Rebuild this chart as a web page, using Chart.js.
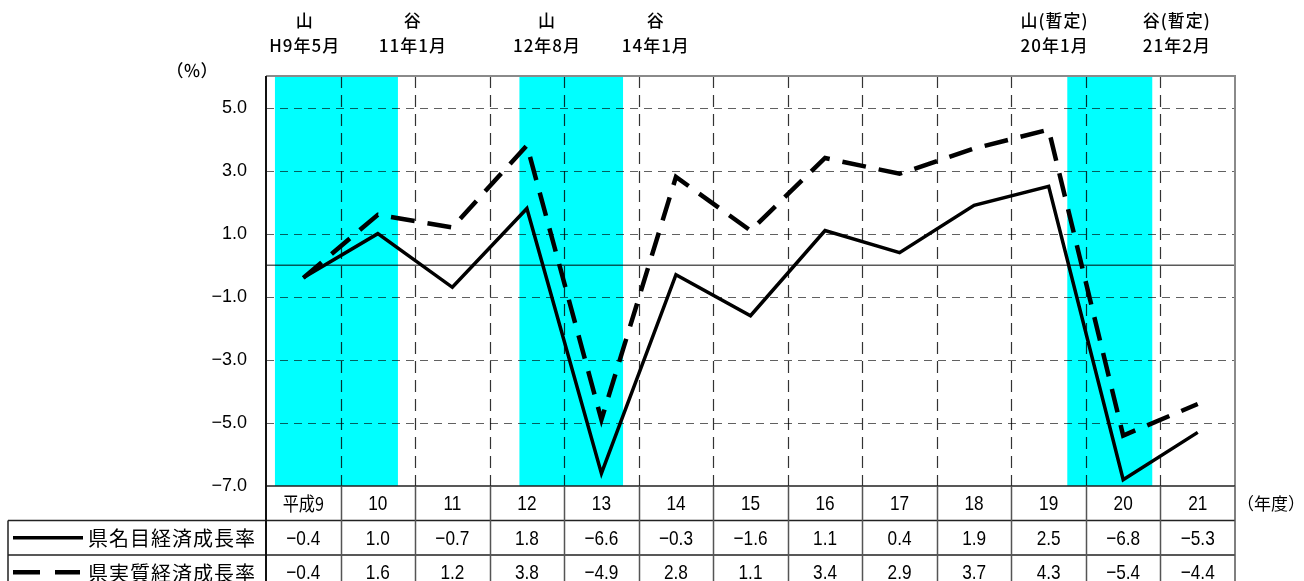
<!DOCTYPE html>
<html lang="ja">
<head>
<meta charset="utf-8">
<script src="https://cdn.jsdelivr.net/npm/chart.js@4/dist/chart.umd.min.js"></script>
<style>
  html, body { margin: 0; padding: 0; background: #fff; }
  #wrap { width: 1304px; height: 581px; overflow: hidden; }
  canvas { display: block; }
</style>
</head>
<body>
<div id="wrap"><canvas id="chart" width="1304" height="581"></canvas></div>
<script>
// 年度（平成）
const categories = ['平成9', '10', '11', '12', '13', '14', '15', '16', '17', '18', '19', '20', '21'];
// 県名目経済成長率（%）
const nominalGrowth = [-0.4, 1.0, -0.7, 1.8, -6.6, -0.3, -1.6, 1.1, 0.4, 1.9, 2.5, -6.8, -5.3];
// 県実質経済成長率（%）
const realGrowth = [-0.4, 1.6, 1.2, 3.8, -4.9, 2.8, 1.1, 3.4, 2.9, 3.7, 4.3, -5.4, -4.4];
const seriesNames = ['県名目経済成長率', '県実質経済成長率'];
// 目盛ラベル
const yTickValues = [5, 3, 1, -1, -3, -5, -7];
// 景気後退期（年度軸上の位置：山→谷）
const recessionStart = [-0.38, 2.90, 10.25];
const recessionEnd = [1.27, 4.29, 11.39];
// 景気基準日付
const turnNames = ['山', '谷', '山', '谷', '山(暫定)', '谷(暫定)'];
const turnDates = ['H9年5月', '11年1月', '12年8月', '14年1月', '20年1月', '21年2月'];
const turnAnchor = [0.02, 1.47, 3.27, 4.73, 10.08, 11.72];

const JP = '"Noto Sans CJK JP", "Noto Sans", sans-serif';
const NUM = '"Liberation Sans", Arial, sans-serif';
const fmt = v => (v < 0 ? '\u2212' : '') + Math.abs(v).toFixed(1);

// 横方向に詰めた文字を描く
function narrowText(c, text, x, y, sx) {
  c.save();
  c.translate(x, y);
  c.scale(sx, 1);
  c.fillText(text, 0, 0);
  c.restore();
}

const frame = {
  id: 'frame',
  beforeDraw(chart) {
    const c = chart.ctx;
    c.save();
    c.fillStyle = '#fff';
    c.fillRect(0, 0, chart.width, chart.height);
    c.restore();
  },
  beforeDatasetsDraw(chart) {
    const c = chart.ctx, xs = chart.scales.x, ys = chart.scales.y;
    const {left, right, top, bottom} = chart.chartArea;
    c.save();
    // 景気後退期の網掛け
    c.fillStyle = '#00ffff';
    recessionStart.forEach((s, i) => {
      const x1 = xs.getPixelForValue(s), x2 = xs.getPixelForValue(recessionEnd[i]);
      c.fillRect(x1, top, x2 - x1, bottom - top);
    });
    // 縦の補助線（年度の区切り）
    c.strokeStyle = 'rgba(0,0,0,0.8)';
    c.lineWidth = 1.2;
    c.setLineDash([12, 7]);
    for (let i = 0; i < categories.length - 1; i++) {
      const x = Math.round(xs.getPixelForValue(i + 0.5)) + 0.5;
      c.beginPath(); c.moveTo(x, top); c.lineTo(x, bottom); c.stroke();
    }
    // 横の補助線
    c.strokeStyle = 'rgba(0,0,0,0.62)';
    c.setLineDash([8, 6]);
    yTickValues.filter(v => v > ys.min).forEach(v => {
      const y = Math.round(ys.getPixelForValue(v)) + 0.5;
      c.beginPath(); c.moveTo(left, y); c.lineTo(right, y); c.stroke();
    });
    // ゼロ線
    c.setLineDash([]);
    c.strokeStyle = 'rgba(0,0,0,0.65)';
    c.lineWidth = 1.5;
    const y0 = ys.getPixelForValue(0);
    c.beginPath(); c.moveTo(left, y0); c.lineTo(right, y0); c.stroke();
    c.restore();
  },
  afterDatasetsDraw(chart) {
    const c = chart.ctx;
    const {left, right, top, bottom} = chart.chartArea;
    c.save();
    c.setLineDash([]);
    c.strokeStyle = '#8a8a8a';
    c.lineWidth = 2;
    c.beginPath(); c.moveTo(left, top); c.lineTo(right, top); c.lineTo(right, bottom); c.stroke();
    c.restore();
  },
  afterDraw(chart) {
    const c = chart.ctx, xs = chart.scales.x;
    const {left, right, top, bottom} = chart.chartArea;
    const rowH = 34.5;
    const tableLeft = 8;
    c.save();
    c.setLineDash([]);

    // 表の罫線
    c.strokeStyle = '#222';
    c.lineWidth = 1.5;
    c.beginPath();
    c.moveTo(left, bottom); c.lineTo(right, bottom);
    c.moveTo(tableLeft, bottom + rowH); c.lineTo(right, bottom + rowH);
    c.moveTo(tableLeft, bottom + rowH * 2); c.lineTo(right, bottom + rowH * 2);
    c.moveTo(tableLeft, bottom + rowH); c.lineTo(tableLeft, bottom + rowH * 3);
    c.stroke();
    c.strokeStyle = '#555';
    c.beginPath();
    for (let i = 0; i < categories.length - 1; i++) {
      const x = Math.round(xs.getPixelForValue(i + 0.5)) + 0.5;
      c.moveTo(x, bottom); c.lineTo(x, bottom + rowH * 3);
    }
    c.moveTo(right, bottom); c.lineTo(right, bottom + rowH * 3);
    c.stroke();
    c.strokeStyle = '#111';
    c.lineWidth = 2;
    c.beginPath(); c.moveTo(left, top); c.lineTo(left, bottom + rowH * 3); c.stroke();

    // 年度・数値
    c.fillStyle = '#000';
    c.textAlign = 'center';
    c.textBaseline = 'middle';
    categories.forEach((cat, i) => {
      const x = xs.getPixelForValue(i);
      if (i === 0) {
        c.font = '19px ' + JP;
        narrowText(c, cat, x, bottom + rowH * 0.5 + 1, 0.85);
      } else {
        c.font = '21px ' + NUM;
        narrowText(c, cat, x, bottom + rowH * 0.5 + 1, 0.82);
      }
      c.font = '21px ' + NUM;
      narrowText(c, fmt(nominalGrowth[i]), x, bottom + rowH * 1.5 + 1, 0.82);
      narrowText(c, fmt(realGrowth[i]), x, bottom + rowH * 2.5 + 1, 0.82);
    });

    // 凡例
    c.strokeStyle = '#000';
    c.lineWidth = 3.5;
    let yy = bottom + rowH * 1.5;
    c.beginPath(); c.moveTo(13, yy); c.lineTo(83, yy); c.stroke();
    yy = bottom + rowH * 2.5;
    c.lineWidth = 4.5;
    c.beginPath(); c.moveTo(13, yy); c.lineTo(40, yy); c.moveTo(55, yy); c.lineTo(80, yy); c.stroke();
    c.textAlign = 'left';
    c.font = '20px ' + JP;
    if ('letterSpacing' in c) c.letterSpacing = '1px';
    c.fillText(seriesNames[0], 88, bottom + rowH * 1.5 + 1);
    c.fillText(seriesNames[1], 88, bottom + rowH * 2.5 + 1);
    if ('letterSpacing' in c) c.letterSpacing = '0px';

    // 単位
    c.font = '500 17px ' + JP;
    c.textAlign = 'center';
    c.fillText('（％）', 192, 71);
    c.font = '17px ' + JP;
    c.textAlign = 'left';
    c.fillText('（年度）', 1237, bottom + rowH * 0.5);

    // 景気基準日付
    c.textAlign = 'center';
    c.font = '500 17px ' + JP;
    if ('letterSpacing' in c) c.letterSpacing = '1px';
    turnNames.forEach((n, i) => {
      const x = xs.getPixelForValue(turnAnchor[i]);
      c.fillText(n, x, 21);
      c.fillText(turnDates[i], x, 46);
    });
    if ('letterSpacing' in c) c.letterSpacing = '0px';
    c.restore();
  }
};

new Chart(document.getElementById('chart'), {
  type: 'line',
  data: {
    labels: categories,
    datasets: [
      {
        label: seriesNames[0],
        data: nominalGrowth,
        borderColor: '#000',
        borderWidth: 3.5,
        borderJoinStyle: 'miter',
        pointRadius: 0,
        tension: 0,
        fill: false
      },
      {
        label: seriesNames[1],
        data: realGrowth,
        borderColor: '#000',
        borderWidth: 4.5,
        borderDash: [24, 13],
        borderJoinStyle: 'miter',
        pointRadius: 0,
        tension: 0,
        fill: false
      }
    ]
  },
  options: {
    responsive: false,
    animation: false,
    devicePixelRatio: 1,
    layout: { padding: { left: 0, right: 69, top: 76, bottom: 95 } },
    plugins: { legend: { display: false }, tooltip: { enabled: false } },
    scales: {
      x: {
        type: 'category',
        offset: true,
        display: false
      },
      y: {
        min: -7,
        max: 6,
        afterFit(scale) { scale.width = 266; },
        grid: { display: false, drawTicks: false },
        border: { display: false },
        ticks: {
          stepSize: 1,
          padding: 19,
          color: '#000',
          font: { family: NUM, size: 18 },
          callback: v => (yTickValues.includes(v) ? fmt(v) : '')
        }
      }
    }
  },
  plugins: [frame]
});
</script>
</body>
</html>
